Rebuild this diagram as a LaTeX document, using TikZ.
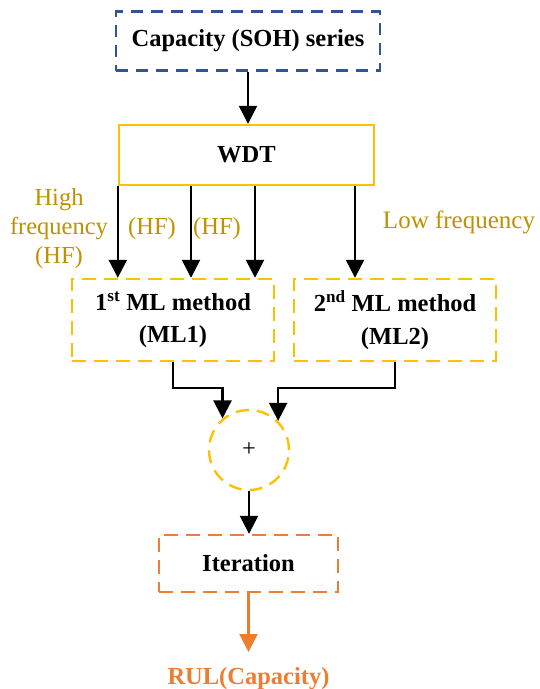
\documentclass[tikz,border=0pt]{standalone}
\usepackage{fontspec}
\setmainfont{Liberation Serif}
\usetikzlibrary{arrows.meta,calc}
\definecolor{cblue}{HTML}{2F5597}
\definecolor{cgold}{HTML}{FFC000}
\definecolor{ctext}{HTML}{BF9000}
\definecolor{corange}{HTML}{ED7D31}
\tikzset{
  boxdash/.style={draw, line width=2.4pt, dash pattern=on 14pt off 8pt, inner sep=0pt},
  arr/.style={line width=2.4pt, -{Triangle[length=18pt,width=18pt]}},
  lbl/.style={text=ctext, font=\fontsize{24.5}{29}\selectfont, inner sep=0pt, align=center},
  bold/.style={font=\fontsize{24.5}{32.5}\selectfont\bfseries, align=center},
}
\begin{document}
\begin{tikzpicture}[x=1pt,y=-1pt]
\useasboundingbox (0,0) rectangle (539,689);
% boxes
\node[boxdash, draw=cblue, dash pattern=on 12pt off 8pt, minimum width=264pt, minimum height=59pt, bold] (top) at (248,41) {Capacity (SOH) series};
\node[draw=cgold, line width=2.4pt, minimum width=255pt, minimum height=60pt, inner sep=0pt, bold] (wdt) at (246.5,155) {WDT};
\node[boxdash, draw=cgold, minimum width=202pt, minimum height=82pt, bold] (ml1) at (173,320) {1\textsuperscript{st} ML method\\(ML1)};
\node[boxdash, draw=cgold, minimum width=202pt, minimum height=82pt, bold] (ml2) at (395,320) {2\textsuperscript{nd} ML method\\(ML2)};
\node[draw=cgold, line width=2.4pt, dash pattern=on 13pt off 8pt, circle, minimum size=80pt, inner sep=0pt, font=\fontsize{24.5}{29}\selectfont] (plus) at (249,450) {+};
\node[boxdash, draw=corange, minimum width=179pt, minimum height=57pt, bold] (iter) at (248.5,563.5) {Iteration};
\node[bold, text=corange, inner sep=0pt] (rul) at (248.5,679) {RUL(Capacity)};
\coordinate (rulin) at (248.5,652);
% labels
\node[lbl] (hfl) at (59,229) {High\\frequency\\(HF)};
\node[lbl] (hf1) at (152,229) {(HF)};
\node[lbl] (hf2) at (217,229) {(HF)};
\node[lbl, font=\fontsize{25}{29}\selectfont] (lf) at (459,222) {Low frequency};
% connectors
\draw[arr] (top.south) -- (wdt.north -| top.south);
\draw[arr] (wdt.south west) -- (ml1.north -| wdt.south west);
\draw[arr] (wdt.south -| 191,0) -- (ml1.north -| 191,0);
\draw[arr] (wdt.south -| 255,0) -- (ml1.north -| 255,0);
\draw[arr] (wdt.south -| 355,0) -- (ml2.north -| 355,0);
\draw[arr] (ml1.south) |- (plus.130 |- 0,388) -- (plus.130);
\draw[arr] (ml2.south) |- (plus.45 |- 0,388) -- (plus.45);
\draw[arr] (plus.south) -- (iter.north -| plus.south);
\draw[arr, draw=corange, fill=corange] (iter.south) -- (rulin);
\end{tikzpicture}
\end{document}
